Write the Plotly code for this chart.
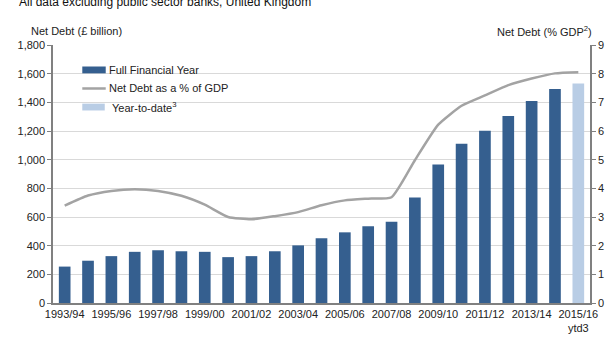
import plotly.graph_objects as go

categories = ["1993/94", "1994/95", "1995/96", "1996/97", "1997/98", "1998/99",
              "1999/00", "2000/01", "2001/02", "2002/03", "2003/04", "2004/05",
              "2005/06", "2006/07", "2007/08", "2008/09", "2009/10", "2010/11",
              "2011/12", "2012/13", "2013/14", "2014/15", "2015/16 ytd"]
tick_labels = ["1993/94", "1995/96", "1997/98", "1999/00", "2001/02", "2003/04",
               "2005/06", "2007/08", "2009/10", "2011/12", "2013/14", "2015/16<br>ytd3"]
full_year_debt = [254, 295, 327, 357, 368, 361, 357, 320, 327, 361, 402, 452,
                  493, 536, 566, 736, 966, 1111, 1202, 1305, 1409, 1493, None]
ytd_debt = [None] * 22 + [1532]
debt_pct_gdp = [3.40, 3.75, 3.91, 3.97, 3.91, 3.74, 3.43, 3.00, 2.92, 3.03, 3.17, 3.41,
                3.58, 3.64, 3.69, 4.98, 6.22, 6.88, 7.24, 7.60, 7.83, 8.01, 8.05]

DARK = "#355f8f"
LIGHT = "#b9cde5"
GREY_LINE = "#a3a3a3"
FONT = "Liberation Sans, Arial, sans-serif"

fig = go.Figure()
fig.add_trace(go.Bar(x=categories, y=full_year_debt, marker_color=DARK,
                     marker_line_width=0, name="Full Financial Year"))
fig.add_trace(go.Bar(x=categories, y=ytd_debt, marker_color=LIGHT,
                     marker_line_width=0, name="Year-to-date"))
fig.add_trace(go.Scatter(x=categories, y=debt_pct_gdp, yaxis="y2", mode="lines",
                         line=dict(color=GREY_LINE, width=2.5, shape="spline", smoothing=0.5),
                         name="Net Debt as a % of GDP"))

L, R, T, B = 53, 13, 45, 37
W, H = 616, 346
pw, ph = W - L - R, H - T - B

def px(x):
    return (x - L) / pw

def py(y):
    return (H - B - y) / ph

fig.update_layout(
    width=W, height=H,
    margin=dict(l=L, r=R, t=T, b=B),
    paper_bgcolor="white", plot_bgcolor="white",
    barmode="overlay", bargap=0.5,
    showlegend=False,
    font=dict(family=FONT, size=11, color="#222222"),
    xaxis=dict(type="category", categoryorder="array", categoryarray=categories,
               tickmode="array", tickvals=categories[::2], ticktext=tick_labels,
               showline=True, linecolor="#808080", linewidth=1.5,
               ticks="", showgrid=False, tickfont=dict(size=11, color="#222222")),
    yaxis=dict(range=[0, 1800], dtick=200, tickformat=",", showgrid=True,
               gridcolor="#d9d9d9", gridwidth=1, showline=True, linecolor="#808080",
               linewidth=1.5, ticks="outside", ticklen=4, tickcolor="#808080",
               zeroline=False, tickfont=dict(size=11, color="#222222")),
    yaxis2=dict(range=[0, 9], dtick=1, overlaying="y", side="right", showgrid=False,
                showline=True, linecolor="#808080", linewidth=1.5, ticks="outside",
                ticklen=4, tickcolor="#808080", zeroline=False,
                tickfont=dict(size=11, color="#222222")),
)

# Titles and legend
ann = [
    dict(text="All data excluding public sector banks, United Kingdom", x=px(16), y=py(1),
         xanchor="left", yanchor="middle", font=dict(size=12, color="#111111")),
    dict(text="Net Debt (£ billion)", x=px(28), y=py(31), xanchor="left", yanchor="middle",
         font=dict(size=11, color="#222222")),
    dict(text="Net Debt (% GDP<sup>2</sup>)", x=px(607), y=py(31), xanchor="right",
         yanchor="middle", font=dict(size=11, color="#222222")),
    dict(text="Full Financial Year", x=px(108), y=py(70.5), xanchor="left", yanchor="middle",
         font=dict(size=11, color="#222222")),
    dict(text="Net Debt as a % of GDP", x=px(108), y=py(89.5), xanchor="left",
         yanchor="middle", font=dict(size=11, color="#222222")),
    dict(text="Year-to-date<sup>3</sup>", x=px(111), y=py(108.5), xanchor="left",
         yanchor="middle", font=dict(size=11, color="#222222")),
]
for a in ann:
    a.update(xref="paper", yref="paper", showarrow=False)
fig.update_layout(annotations=ann)

shapes = [
    dict(type="rect", x0=px(83), x1=px(107), y0=py(74), y1=py(67), fillcolor=DARK,
         line_width=0),
    dict(type="line", x0=px(83), x1=px(107), y0=py(89.5), y1=py(89.5),
         line=dict(color=GREY_LINE, width=2.5)),
    dict(type="rect", x0=px(83), x1=px(106), y0=py(112), y1=py(105), fillcolor=LIGHT,
         line_width=0),
]
for s in shapes:
    s.update(xref="paper", yref="paper")
fig.update_layout(shapes=shapes)

fig.write_html("out.html")
